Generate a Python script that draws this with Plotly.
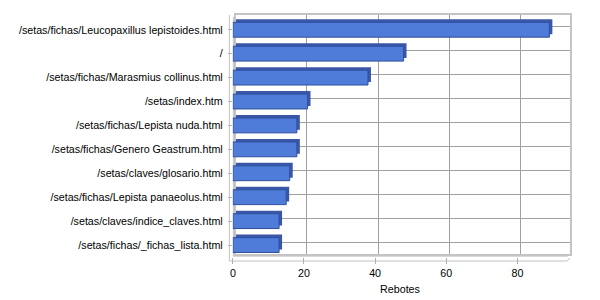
import plotly.graph_objects as go

pages = [
    "/setas/fichas/Leucopaxillus lepistoides.html",
    "/",
    "/setas/fichas/Marasmius collinus.html",
    "/setas/index.htm",
    "/setas/fichas/Lepista nuda.html",
    "/setas/fichas/Genero Geastrum.html",
    "/setas/claves/glosario.html",
    "/setas/fichas/Lepista panaeolus.html",
    "/setas/claves/indice_claves.html",
    "/setas/fichas/_fichas_lista.html",
]
rebotes = [89, 48, 38, 21, 18, 18, 16, 15, 13, 13]
x_ticks = [0, 20, 40, 60, 80]
x_title = "Rebotes"

W, H = 600, 300
FONT = "Liberation Sans"
FS = 10.7


def px(x):
    return x / W


def py(y):
    return 1 - y / H


# front plane geometry (pixels)
FL, FR, FT, FB = 231, 567, 17.8, 257
D = 3  # depth offset
XMAX = 94

fig = go.Figure()

# back (depth) bars -> gives the 3D extrusion look
fig.add_trace(go.Bar(
    x=rebotes, y=pages, orientation="h", width=0.62,
    marker=dict(color="#3a57a8", line=dict(width=0)),
    xaxis="x", yaxis="y", hoverinfo="skip", showlegend=False,
))
# front bars
fig.add_trace(go.Bar(
    x=rebotes, y=pages, orientation="h", width=0.62,
    marker=dict(color="#4f7bd9", line=dict(color="#2f4f9e", width=1)),
    xaxis="x2", yaxis="y2", hoverinfo="skip", showlegend=False,
))

shapes = []
# left side wall
shapes.append(dict(
    type="path", xref="paper", yref="paper", layer="below",
    path=f"M {px(FL)},{py(FB)} L {px(FL)},{py(FT)} L {px(FL+D)},{py(FT-D)} L {px(FL+D)},{py(FB-D)} Z",
    fillcolor="#c8c8c8", line=dict(width=0),
))
# floor
shapes.append(dict(
    type="path", xref="paper", yref="paper", layer="below",
    path=f"M {px(FL)},{py(FB)} L {px(FR)},{py(FB)} L {px(FR+D)},{py(FB-D)} L {px(FL+D)},{py(FB-D)} Z",
    fillcolor="#d8d8d8", line=dict(width=0),
))
# outer axis lines
shapes.append(dict(type="line", xref="paper", yref="paper", layer="below",
                   x0=px(227.5), x1=px(227.5), y0=py(15), y1=py(261),
                   line=dict(color="#c0c0c0", width=1)))
shapes.append(dict(type="line", xref="paper", yref="paper", layer="below",
                   x0=px(227.5), x1=px(FR), y0=py(261), y1=py(261),
                   line=dict(color="#c0c0c0", width=1)))
shapes.append(dict(type="line", xref="paper", yref="paper", layer="below",
                   x0=px(FR), x1=px(FR + D), y0=py(261), y1=py(258),
                   line=dict(color="#c0c0c0", width=1)))

fig.update_layout(
    width=W, height=H,
    margin=dict(l=0, r=0, t=0, b=0),
    paper_bgcolor="white",
    plot_bgcolor="rgba(0,0,0,0)",
    font=dict(family=FONT, size=FS, color="black"),
    bargap=0.38,
    shapes=shapes,
    xaxis=dict(
        domain=[px(FL + D), px(FR + D)], range=[0, XMAX],
        showgrid=True, gridcolor="#a0a0a0", gridwidth=1,
        tickvals=x_ticks, showticklabels=False, ticks="",
        zeroline=False, showline=True, mirror=True,
        linecolor="#c4c4c4", linewidth=2, anchor="y", fixedrange=True,
    ),
    yaxis=dict(
        domain=[py(FB - D), py(FT - D)],
        categoryorder="array", categoryarray=pages, autorange="reversed",
        showgrid=True, gridcolor="#a0a0a0", gridwidth=1,
        showticklabels=False, ticks="",
        zeroline=False, showline=True, mirror=True,
        linecolor="#c4c4c4", linewidth=2, anchor="x", fixedrange=True,
    ),
    xaxis2=dict(
        domain=[px(FL), px(FR)], range=[0, XMAX],
        showgrid=False, zeroline=False, showline=False,
        tickvals=x_ticks, ticks="outside", ticklen=6, tickcolor="#b0b0b0",
        tickfont=dict(size=FS, color="black"),
        title=dict(text=x_title, font=dict(size=FS, color="black"), standoff=7),
        anchor="y2", fixedrange=True,
    ),
    yaxis2=dict(
        domain=[py(FB), py(FT)],
        categoryorder="array", categoryarray=pages, autorange="reversed",
        showgrid=False, zeroline=False, showline=False,
        ticks="outside", ticklen=4, tickcolor="#b0b0b0",
        tickfont=dict(size=FS, color="black"),
        ticklabelstandoff=3,
        anchor="x2", fixedrange=True,
    ),
)

fig.write_html("out.html", config={"displayModeBar": False})
